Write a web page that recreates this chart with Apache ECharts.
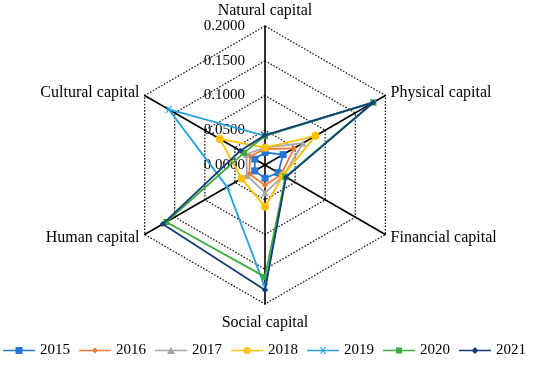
<!DOCTYPE html>
<html>
<head>
<meta charset="utf-8">
<script src="https://cdn.jsdelivr.net/npm/echarts@6/dist/echarts.min.js"></script>
<style>html,body{margin:0;padding:0;background:#fff;}#c{width:550px;height:365px;}</style>
</head>
<body>
<div id="c"></div>
<script>
// Indicators listed clockwise from top
var indicatorNames = ['Natural capital', 'Physical capital', 'Financial capital', 'Social capital', 'Human capital', 'Cultural capital'];
var years = ['2015', '2016', '2017', '2018', '2019', '2020', '2021'];
var v2015 = [0.018, 0.030, 0.022, 0.019, 0.017, 0.017];
var v2016 = [0.023, 0.048, 0.027, 0.029, 0.026, 0.025];
var v2017 = [0.025, 0.063, 0.031, 0.040, 0.030, 0.031];
var v2018 = [0.025, 0.084, 0.030, 0.060, 0.039, 0.075];
var v2019 = [0.042, 0.180, 0.034, 0.176, 0.063, 0.160];
var v2020 = [0.042, 0.180, 0.034, 0.161, 0.164, 0.035];
var v2021 = [0.043, 0.180, 0.035, 0.180, 0.170, 0.041];
var axisMax = 0.2;

var allValues = [v2015, v2016, v2017, v2018, v2019, v2020, v2021];
var colors = ['#2577D3', '#F27A32', '#A5A5A5', '#FFC000', '#25A2E2', '#3DAA3D', '#123F78'];
var xPath = 'path://M0,0L2,0L5,3L8,0L10,0L6,5L10,10L8,10L5,7L2,10L0,10L4,5Z';
var symbols = ['rect', 'diamond', 'triangle', 'circle', xPath, 'rect', 'diamond'];
var sizes = [7, 6, 7, 8, 7, 6, 6];

// legend icons: a line with the marker in the middle (32 x 7 box)
var lineSeg = 'M0,4.2L32,4.2L32,5.8L0,5.8Z';
var legendMarks = [
  'M12.5,1.5L19.5,1.5L19.5,8.5L12.5,8.5Z',
  'M16,2L19,5L16,8L13,5Z',
  'M16,1.5L20,8.5L12,8.5Z',
  'M12.5,5A3.5,3.5 0 1,1 19.5,5A3.5,3.5 0 1,1 12.5,5Z',
  'M13,1.5L14.2,1.5L16,3.9L17.8,1.5L19,1.5L16.7,5L19,8.5L17.8,8.5L16,6.1L14.2,8.5L13,8.5L15.3,5Z',
  'M13,2L19,2L19,8L13,8Z',
  'M16,1.5L19.5,5L16,8.5L12.5,5Z'
];

// ECharts lays radar indicators counter-clockwise; reverse the tail for clockwise order
function reorder(arr) { return [arr[0]].concat(arr.slice(1).reverse()); }

var indicators = reorder(indicatorNames).map(function (n, i) {
  var o = { name: n, min: 0, max: axisMax };
  if (i === 0) o.axisLabel = { show: true };
  return o;
});

var serif = 'Liberation Serif';
var series = years.map(function (y, i) {
  return {
    type: 'radar',
    name: y,
    symbol: symbols[i],
    symbolSize: sizes[i],
    lineStyle: { color: colors[i], width: 1.8 },
    itemStyle: { color: colors[i] },
    data: [{ value: reorder(allValues[i]), name: y }],
    z: 2 + i
  };
});

var chart = echarts.init(document.getElementById('c'), null, { renderer: 'canvas' });
chart.setOption({
  animation: false,
  color: colors,
  legend: {
    top: 343,
    left: 3,
    itemWidth: 32,
    itemHeight: 7,
    itemGap: 9,
    padding: 0,
    textStyle: { fontFamily: serif, fontSize: 15, color: '#000' },
    data: years.map(function (y, i) { return { name: y, icon: 'path://' + lineSeg + legendMarks[i] }; })
  },
  radar: {
    center: [265, 165],
    radius: 139,
    startAngle: 90,
    shape: 'polygon',
    splitNumber: 4,
    indicator: indicators,
    axisName: {
      color: '#000', fontFamily: serif, fontSize: 16,
      formatter: function (name) { return name === 'Social capital' ? '{s|' + name + '}' : name; },
      rich: { s: { fontFamily: serif, fontSize: 16, color: '#000', lineHeight: 26 } }
    },
    nameGap: 6,
    axisLine: { lineStyle: { color: '#000', width: 1.6 } },
    splitLine: { lineStyle: { color: '#222', type: [1.6, 1.6], width: 1.3 } },
    splitArea: { show: false },
    axisTick: { show: false },
    axisLabel: { show: false, color: '#000', fontFamily: serif, fontSize: 15, margin: 20,
      formatter: function (v) { return v.toFixed(4); } }
  },
  series: series
});
</script>
</body>
</html>
